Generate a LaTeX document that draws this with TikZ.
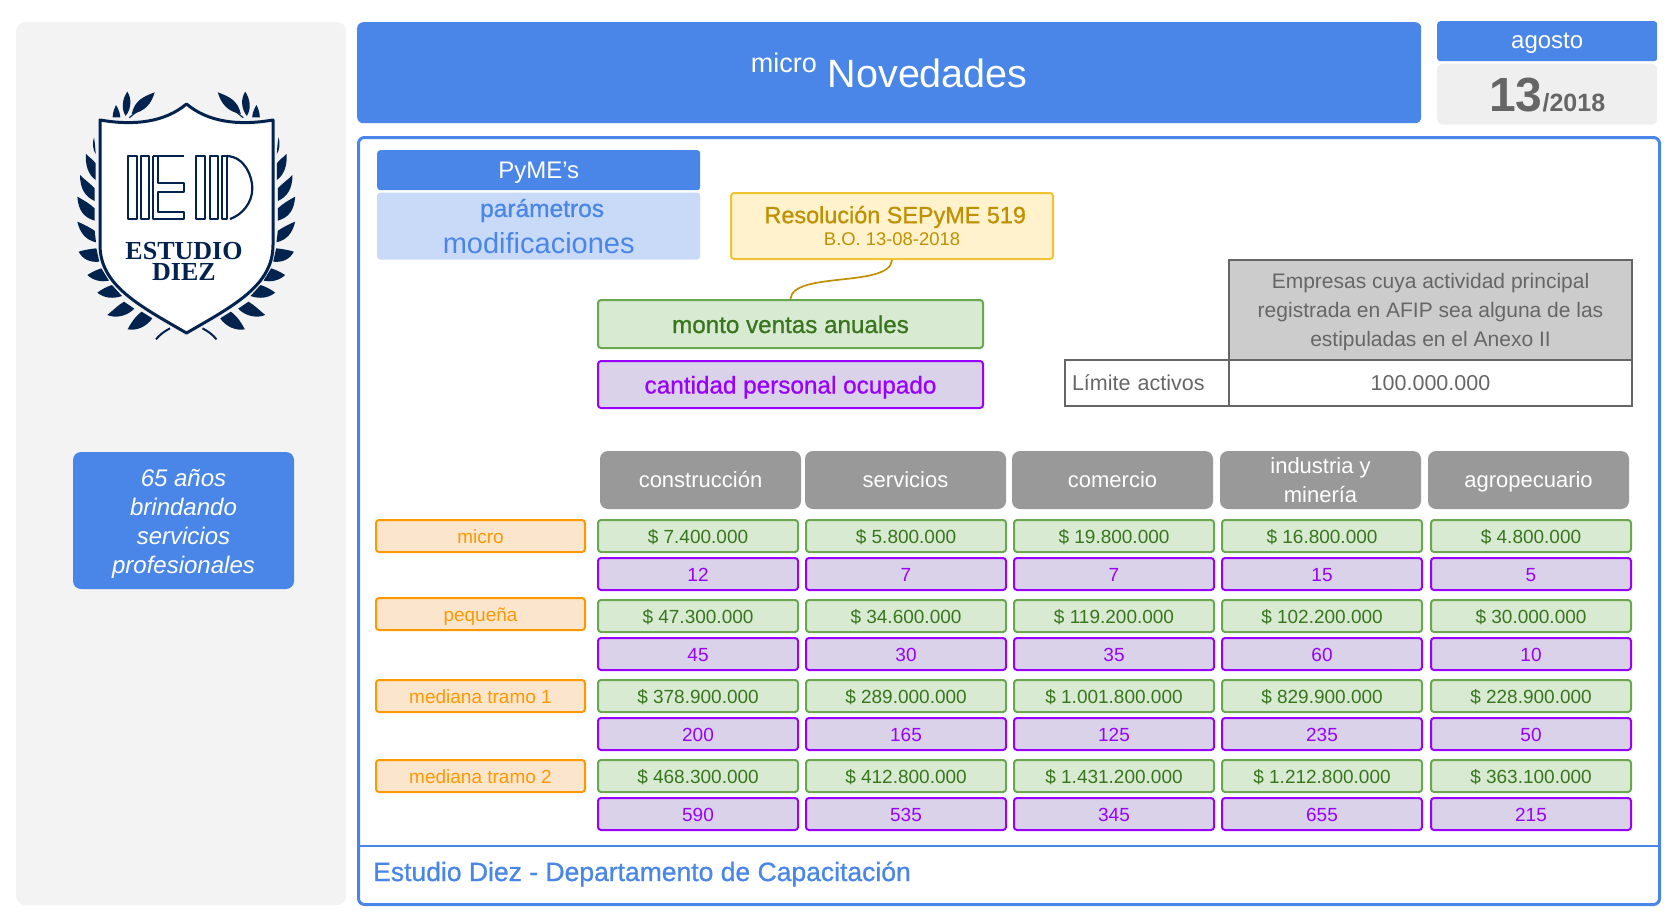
\documentclass[tikz,border=0pt]{standalone}
\usepackage{fontspec}
\usetikzlibrary{positioning}
\setmainfont{Liberation Sans}
\newfontfamily\medfont[FakeBold=0.9]{Liberation Sans}
\newfontfamily\logofont{Liberation Serif}

\definecolor{brandblue}{HTML}{4A86E8}
\definecolor{paleblue}{HTML}{C9DAF8}
\definecolor{sidegray}{HTML}{F3F3F3}
\definecolor{dategray}{HTML}{EFEFEF}
\definecolor{inkgray}{HTML}{666666}
\definecolor{headgray}{HTML}{999999}
\definecolor{tablegray}{HTML}{CCCCCC}
\definecolor{notefill}{HTML}{FFF2CC}
\definecolor{noteline}{HTML}{F1C232}
\definecolor{noteink}{HTML}{BF9000}
\definecolor{moneyfill}{HTML}{D9EAD3}
\definecolor{moneyline}{HTML}{6AA84F}
\definecolor{moneyink}{HTML}{38761D}
\definecolor{stafffill}{HTML}{D9D2E9}
\definecolor{staffline}{HTML}{9900FF}
\definecolor{sizefill}{HTML}{FCE5CD}
\definecolor{sizeline}{HTML}{FF9900}
\definecolor{logoink}{HTML}{03234F}

\newcommand{\fs}[1]{\fontsize{#1}{#1}\selectfont}

\newcommand{\logoleaves}{
    \fill (338,352) .. controls (338,335) and (345,322) .. (348,315) .. controls (355,325) and (360,340) .. (361,352) -- cycle;
    \fill (377,348) .. controls (362,325) and (368,295) .. (382,275) .. controls (395,295) and (395,325) .. (377,348) -- cycle;
    \fill (395,342) .. controls (405,300) and (430,290) .. (464,277) .. controls (455,310) and (435,335) .. (395,342) -- cycle;
    \draw[line width=1.2pt] (388,353) -- (410,335);
    \fill (282,412) .. controls (276,430) and (279,450) .. (287,462) .. controls (286,445) and (285,430) .. (282,412) -- cycle;
    \fill (258,462) .. controls (255,495) and (265,525) .. (287,540) -- (287,490) .. controls (280,480) and (268,472) .. (258,462) -- cycle;
    \fill (240,525) .. controls (240,565) and (255,590) .. (284,603) -- (284,565) .. controls (270,550) and (255,540) .. (240,525) -- cycle;
    \fill (232,590) .. controls (235,630) and (250,652) .. (284,662) -- (284,625) .. controls (268,610) and (250,600) .. (232,590) -- cycle;
    \fill (232,665) .. controls (240,700) and (258,720) .. (288,727) -- (284,692) .. controls (268,682) and (250,672) .. (232,665) -- cycle;
    \fill (236,755) .. controls (248,778) and (270,788) .. (298,785) -- (289,745) .. controls (270,747) and (252,750) .. (236,755) -- cycle;
    \fill (262,825) .. controls (280,842) and (305,847) .. (327,842) -- (304,805) .. controls (288,810) and (275,817) .. (262,825) -- cycle;
    \fill (292,878) .. controls (312,895) and (340,897) .. (366,888) -- (336,855) .. controls (320,860) and (305,868) .. (292,878) -- cycle;
    \fill (322,945) .. controls (345,955) and (380,950) .. (403,926) -- (372,905) .. controls (355,915) and (340,930) .. (322,945) -- cycle;
    \fill (383,988) .. controls (410,993) and (440,980) .. (457,955) -- (425,935) .. controls (405,950) and (392,970) .. (383,988) -- cycle;
    \draw[line width=2pt] (468,1018) .. controls (480,1003) and (495,993) .. (510,985);
}

\tikzset{
    softbox/.style = {rounded corners = 3pt, inner sep = 0pt, align = center},
    bluebox/.style = {softbox, fill = brandblue, text = white},
    moneycell/.style = {softbox, draw = moneyline, line width = 2pt, fill = moneyfill, text = moneyink,
        minimum width = 200pt, minimum height = 32pt, text height = 14pt, text depth = 0pt, font = \fs{19}},
    staffcell/.style = {moneycell, draw = staffline, fill = stafffill, text = staffline},
    sizelabel/.style = {moneycell, minimum width = 209pt, draw = sizeline, fill = sizefill, text = sizeline},
    sectorhead/.style = {softbox, rounded corners = 8pt, fill = headgray, text = white, outer sep = 0pt,
        minimum width = 201pt, minimum height = 58pt, font = \fs{22}},
    sectorline/.style = {sectorhead, text height = 18pt, text depth = 3pt},
    tablecell/.style = {draw = inkgray, line width = 2pt, text = inkgray, inner sep = 0pt, align = center, font = \fs{21.5}},
}

\begin{document}
\begin{tikzpicture}[
            x = 1pt, y = -1pt,
            node distance = 6pt
        ]
        \useasboundingbox (0,0) rectangle (1677,921);

        % side panel
        \node[softbox, rounded corners = 9pt, fill = sidegray, minimum width = 330pt, minimum height = 883pt,
            anchor = north west] (side) at (16,22) {};
        \node[bluebox, rounded corners = 8pt, minimum width = 221pt, minimum height = 137pt,
            font = \fontsize{24}{29}\selectfont\itshape] (years) at (183.5,520.5)
            {\rule{0pt}{23.5pt}65 años\\brindando\\servicios\\profesionales};

        % logo
        \begin{scope}[scale = 1/3, color = logoink]
            \logoleaves
        \end{scope}
        \begin{scope}[shift = {(372.5,0)}, xscale = -1, scale = 1/3, color = logoink]
            \logoleaves
        \end{scope}
        \draw[logoink, line width = 3pt, fill = white, line join = round]
            (100,120) .. controls (135,126) and (165,122) .. (186.5,104)
            .. controls (208,122) and (238,126) .. (273,120) -- (273,245)
            .. controls (273,285) and (235,305) .. (186.5,333)
            .. controls (138,305) and (100,285) .. (100,245) -- cycle;
        \begin{scope}[scale = 1/3, logoink, line width = 2.2pt, line join = round]
            \draw (385,468) rectangle (410,658);
            \draw (422,468) rectangle (448,658);
            \draw (460,468) -- (552,468) (460,468) -- (460,658) -- (552,658) -- (552,635) -- (475,635) -- (475,575)
                -- (552,575) -- (552,550) -- (475,550) -- (475,468);
            \draw (588,468) rectangle (615,658);
            \draw (630,468) rectangle (655,658);
            \draw (667,468) rectangle (680,658);
            \draw (680,468) .. controls (735,470) and (757,530) .. (757,565) .. controls (757,610) and (725,645) .. (690,657);
        \end{scope}
        \node[text = logoink, inner sep = 0pt, font = \logofont\bfseries\fs{26}] (logotop) at (184,251) {ESTUDIO};
        \node[text = logoink, inner sep = 0pt, font = \logofont\bfseries\fs{26}] (logobot) at (184,272) {DIEZ};

        % header
        \node[bluebox, rounded corners = 6pt, minimum width = 1064pt, minimum height = 101pt, text depth = 4pt,
            anchor = north west] (title) at (357,22)
            {\raisebox{15pt}{\fs{27}micro}\fs{39.5} Novedades};
        \node[bluebox, minimum width = 220pt, minimum height = 40pt, text height = 14pt, text depth = 0pt, font = \fs{24},
            anchor = north west] (month) at (1437,21) {agosto};
        \node[softbox, rounded corners = 6pt, fill = dategray, text = inkgray, minimum width = 220pt, minimum height = 61pt,
            text height = 34.4pt, text depth = 0pt, font = \bfseries, below = 2pt of month] (day) {\fs{48}13\fs{25}/2018};

        % main frame
        \node[draw = brandblue, line width = 3pt, rounded corners = 6pt, inner sep = 0pt,
            minimum width = 1301pt, minimum height = 767pt, anchor = north west] (frame) at (357,136) {};
        \coordinate (ruleat) at (0,846);
        \draw[brandblue, line width = 2pt] (frame.west |- ruleat) -- (frame.east |- ruleat);
        \node[text = brandblue, inner sep = 0pt, font = \medfont\fs{26.5}, anchor = west] (footer) at (373,874)
            {Estudio Diez - Departamento de Capacitación};

        % title boxes
        \node[bluebox, minimum width = 323pt, minimum height = 40pt, text height = 16pt, text depth = 0pt, font = \fs{24},
            anchor = north west] (pyme) at (377,150) {PyME’s};
        \node[softbox, fill = paleblue, text = brandblue, minimum width = 323pt, minimum height = 67pt,
            below = 2pt of pyme] (params)
            {\medfont\fs{24.5} parámetros\\[9pt]\fs{29}\rmfamily modificaciones};
        \node[softbox, draw = noteline, line width = 2pt, fill = notefill, text = noteink,
            minimum width = 322pt, minimum height = 66pt, anchor = north west] (resol) at (730,192)
            {\medfont\fs{23.4} Resolución SEPyME 519\\[4pt]\fs{18.4}B.O. 13-08-2018};
        \node[moneycell, minimum width = 385pt, minimum height = 48pt, text height = 18pt,
            font = \medfont\fs{24.2}, anchor = north west] (ventas) at (597,299) {monto ventas anuales};
        \node[staffcell, minimum width = 385pt, minimum height = 47pt, text height = 18pt,
            font = \medfont\fs{24.3}, below = 11pt of ventas] (personal) {cantidad personal ocupado};
        \draw[noteink, line width = 1.7pt] (resol.south) .. controls +(-2,28) and +(2,-28) .. (ventas.north);

        % activity table
        \node[tablecell, fill = tablegray, minimum width = 403pt, minimum height = 100pt, anchor = north west,
            font = \fontsize{21}{29}\selectfont] (empresas) at (1228,259)
            {\rule{0pt}{19.5pt}Empresas cuya actividad principal\\registrada en AFIP sea alguna de las\\estipuladas en el Anexo II};
        \node[tablecell, minimum width = 403pt, minimum height = 46pt, below = -2pt of empresas] (tope) {100.000.000};
        \node[tablecell, minimum width = 164pt, minimum height = 46pt, text width = 150pt, align = left,
            left = -2pt of tope] (limite) {Límite activos};

        % sectors
        \node[sectorline, anchor = north west] (sec1) at (600,451) {construcción};
        \node[sectorline, right = 4pt of sec1] (sec2) {servicios};
        \node[sectorline, right = 6pt of sec2] (sec3) {comercio};
        \node[sectorhead, right = 7pt of sec3, font = \fontsize{22}{29}\selectfont] (sec4) {industria y\\minería};
        \node[sectorline, right = 7pt of sec4] (sec5) {agropecuario};

        % first row of each column hangs off the one above
        \node[moneycell, anchor = north west] (m1a) at (597,519) {\$ 7.400.000};
        \node[moneycell, right = of m1a] (m1b) {\$ 5.800.000};
        \node[moneycell, right = of m1b] (m1c) {\$ 19.800.000};
        \node[moneycell, right = of m1c] (m1d) {\$ 16.800.000};
        \node[moneycell, right = 7pt of m1d] (m1e) {\$ 4.800.000};
        \node[staffcell, below = 4pt of m1a] (p1a) {12};
        \node[staffcell, below = 4pt of m1b] (p1b) {7};
        \node[staffcell, below = 4pt of m1c] (p1c) {7};
        \node[staffcell, below = 4pt of m1d] (p1d) {15};
        \node[staffcell, below = 4pt of m1e] (p1e) {5};

        \node[moneycell, below = 8pt of p1a] (m2a) {\$ 47.300.000};
        \node[moneycell, below = 8pt of p1b] (m2b) {\$ 34.600.000};
        \node[moneycell, below = 8pt of p1c] (m2c) {\$ 119.200.000};
        \node[moneycell, below = 8pt of p1d] (m2d) {\$ 102.200.000};
        \node[moneycell, below = 8pt of p1e] (m2e) {\$ 30.000.000};
        \node[staffcell, below = 4pt of m2a] (p2a) {45};
        \node[staffcell, below = 4pt of m2b] (p2b) {30};
        \node[staffcell, below = 4pt of m2c] (p2c) {35};
        \node[staffcell, below = 4pt of m2d] (p2d) {60};
        \node[staffcell, below = 4pt of m2e] (p2e) {10};

        \node[moneycell, below = 8pt of p2a] (m3a) {\$ 378.900.000};
        \node[moneycell, below = 8pt of p2b] (m3b) {\$ 289.000.000};
        \node[moneycell, below = 8pt of p2c] (m3c) {\$ 1.001.800.000};
        \node[moneycell, below = 8pt of p2d] (m3d) {\$ 829.900.000};
        \node[moneycell, below = 8pt of p2e] (m3e) {\$ 228.900.000};
        \node[staffcell, below = 4pt of m3a] (p3a) {200};
        \node[staffcell, below = 4pt of m3b] (p3b) {165};
        \node[staffcell, below = 4pt of m3c] (p3c) {125};
        \node[staffcell, below = 4pt of m3d] (p3d) {235};
        \node[staffcell, below = 4pt of m3e] (p3e) {50};

        \node[moneycell, below = 8pt of p3a] (m4a) {\$ 468.300.000};
        \node[moneycell, below = 8pt of p3b] (m4b) {\$ 412.800.000};
        \node[moneycell, below = 8pt of p3c] (m4c) {\$ 1.431.200.000};
        \node[moneycell, below = 8pt of p3d] (m4d) {\$ 1.212.800.000};
        \node[moneycell, below = 8pt of p3e] (m4e) {\$ 363.100.000};
        \node[staffcell, below = 4pt of m4a] (p4a) {590};
        \node[staffcell, below = 4pt of m4b] (p4b) {535};
        \node[staffcell, below = 4pt of m4c] (p4c) {345};
        \node[staffcell, below = 4pt of m4d] (p4d) {655};
        \node[staffcell, below = 4pt of m4e] (p4e) {215};

        % company sizes
        \node[sizelabel, left = 11pt of m1a] (micro) {micro};
        \node[sizelabel, left = 11pt of m2a, yshift = 2pt] (peque) {pequeña};
        \node[sizelabel, left = 11pt of m3a] (mtramo1) {mediana tramo 1};
        \node[sizelabel, left = 11pt of m4a] (mtramo2) {mediana tramo 2};
    \end{tikzpicture}
\end{document}
